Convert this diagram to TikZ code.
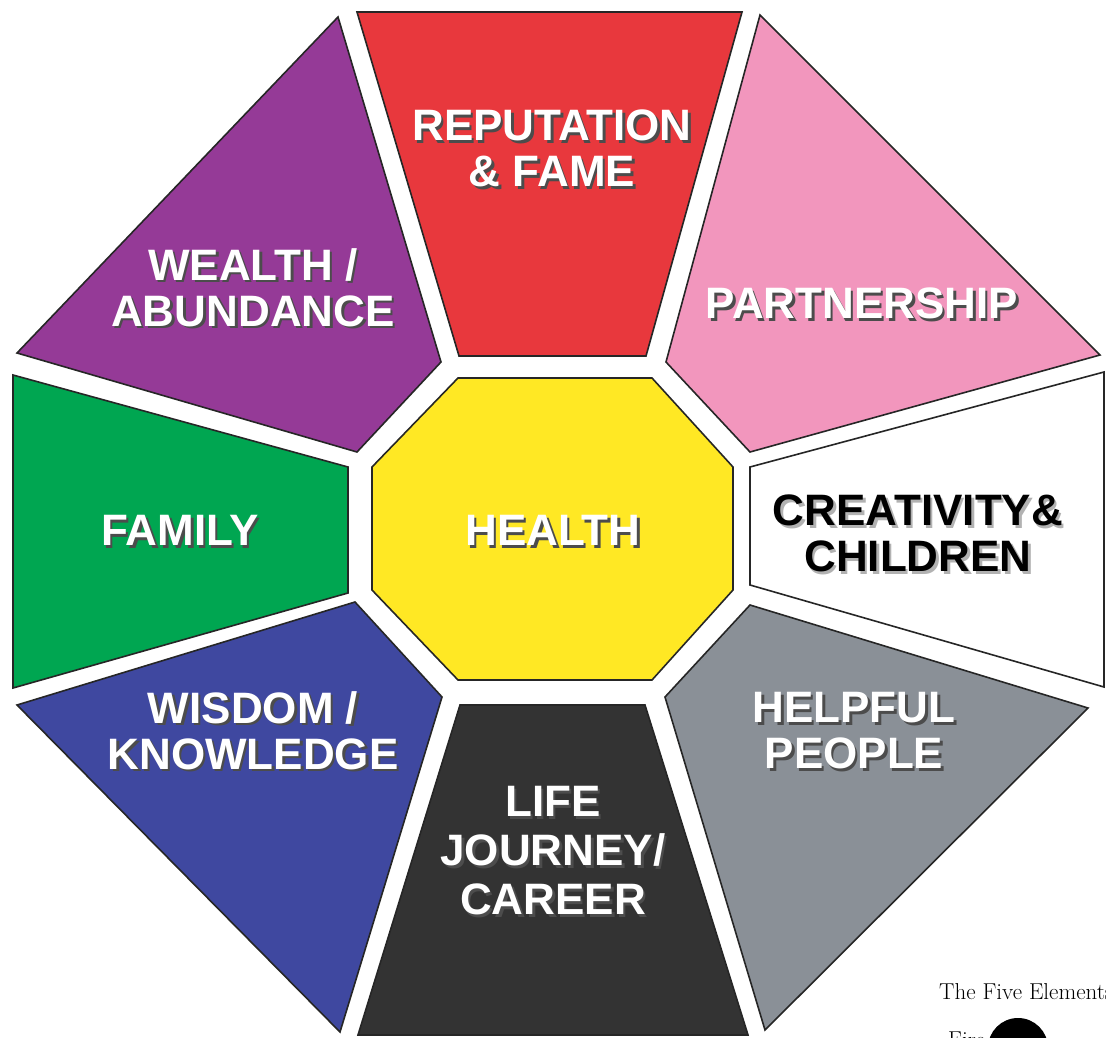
\documentclass[tikz,border=0pt]{standalone}
\usepackage{fontspec}
\newfontfamily\labfont{Liberation Sans}
\definecolor{cred}{RGB}{232,56,61}
\definecolor{cpurple}{RGB}{149,58,151}
\definecolor{cpink}{RGB}{242,150,189}
\definecolor{cgreen}{RGB}{0,166,81}
\definecolor{cyellow}{RGB}{255,232,36}
\definecolor{cgray}{RGB}{138,144,151}
\definecolor{cdark}{RGB}{51,51,51}
\definecolor{cblue}{RGB}{63,72,160}
% text with a drop shadow, in one box
\newcommand\shw[2][black!70]{\makebox[0pt][l]{\hspace{2.5pt}\raisebox{-2.5pt}{\textcolor{#1}{#2}}}#2}
\tikzset{
  sector/.style={draw=black!85, line width=1.6pt, line join=miter},
  lab/.style={font=\labfont\bfseries\fontsize{44}{46}\selectfont, align=center, text=white, inner sep=0pt},
  labdark/.style={lab, text=black},
  elem/.style={font=\fontsize{23}{26}\selectfont, anchor=base west, inner sep=0pt}
}
\begin{document}
\begin{tikzpicture}[x=1pt,y=-1pt]
\useasboundingbox (0,0) rectangle (1106,1038);
\fill[white] (0,0) rectangle (1106,1038);
% sectors
\draw[sector, fill=cred]    (357,12) -- (742,12) -- (646,356) -- (459,356) -- cycle;
\draw[sector, fill=cpurple] (338,17) -- (17,353) -- (357,452) -- (441,362) -- cycle;
\draw[sector, fill=cpink]   (760,15) -- (1100,355) -- (750,452) -- (666,362) -- cycle;
\draw[sector, fill=cgreen]  (13,375) -- (348,467) -- (348,593) -- (13,688) -- cycle;
\draw[sector, fill=white]   (1104,372) -- (1104,687) -- (750,585) -- (750,467) -- cycle;
\draw[sector, fill=cgray]   (750,605) -- (1088,708) -- (765,1030) -- (665,697) -- cycle;
\draw[sector, fill=cdark]   (460,705) -- (645,705) -- (748,1035) -- (358,1035) -- cycle;
\draw[sector, fill=cblue]   (17,705) -- (355,602) -- (442,697) -- (340,1032) -- cycle;
\draw[sector, fill=cyellow] (458,378) -- (652,378) -- (733,467) -- (733,590) -- (652,680) -- (458,680) -- (372,590) -- (372,467) -- cycle;
% labels
\node[lab] (fame) at (552,150) {\shw{REPUTATION}\\\shw{\& FAME}};
\node[lab] (wealth) at (253,289) {\shw{WEALTH /}\\\shw{ABUNDANCE}};
\node[lab] (love) at (862,305) {\shw{PARTNERSHIP}};
\node[lab] (family) at (180,532) {\shw{FAMILY}};
\node[lab] (health) at (553,532) {\shw{HEALTH}};
\node[labdark] (children) at (918,535) {\shw[black!30]{CREATIVITY\&}\\\shw[black!30]{CHILDREN}};
\node[lab] (wisdom) at (253,732) {\shw{WISDOM /}\\\shw{KNOWLEDGE}};
\node[lab] (helpful) at (854,732) {\shw{HELPFUL}\\\shw{PEOPLE}};
\node[lab, font=\labfont\bfseries\fontsize{44}{49}\selectfont] (career) at (553,852) {\shw{LIFE}\\\shw{JOURNEY/}\\\shw{CAREER}};
% five elements corner
\begin{scope}
\clip (0,0) rectangle (1106,1038);
\node[elem] (five) at (939,999) {The Five Elements};
\node[elem] (fire) at (948,1047) {Fire};
\fill[black] (1018,1048) circle (30);
\end{scope}
\end{tikzpicture}
\end{document}
